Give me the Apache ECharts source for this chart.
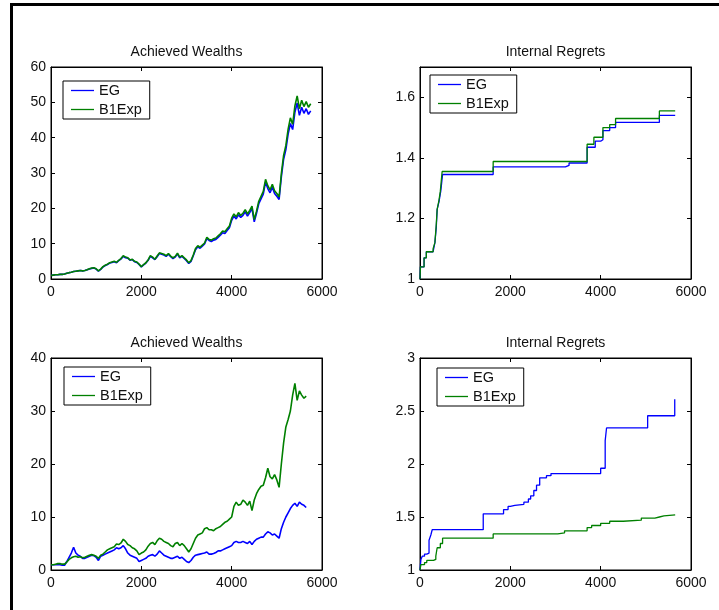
<!DOCTYPE html>
<html>
<head>
<meta charset="utf-8">
<script src="https://cdn.jsdelivr.net/npm/echarts@6/dist/echarts.min.js"></script>
<style>
  html, body { margin: 0; padding: 0; background: #fff; }
  #chart { width: 719px; height: 610px; }
</style>
</head>
<body>
<div id="chart"></div>
<script>
// ---- data -------------------------------------------------------------
const seriesNames = ['EG', 'B1Exp'];
const xTicks = [0, 2000, 4000, 6000];
const wealthTicksA = [0, 10, 20, 30, 40, 50, 60];
const regretTicksA = [1, 1.2, 1.4, 1.6];
const wealthTicksB = [0, 10, 20, 30, 40];
const regretTicksB = [1, 1.5, 2, 2.5, 3];

// wealth series are sampled every 50 trading days
const wealthStep = 50;

// first data set: achieved wealth
const wealthA_EG = [
  1.0, 1.1, 1.2, 1.2, 1.3, 1.3, 1.4, 1.6, 1.8, 1.9,
  2.1, 2.2, 2.3, 2.4, 2.3, 2.4, 2.6, 2.8, 3.0, 3.1,
  2.8, 2.2, 2.7, 3.4, 3.8, 4.1, 4.5, 4.7, 4.9, 4.6,
  5.2, 5.7, 6.4, 6.0, 5.9, 5.3, 5.5, 4.9, 4.7, 4.1,
  3.4, 4.0, 4.5, 5.3, 6.4, 6.0, 5.5, 6.3, 7.2, 7.0,
  6.8, 6.4, 7.0, 6.3, 5.8, 6.2, 7.1, 6.0, 6.4, 5.8,
  5.2, 4.4, 5.0, 6.6, 8.3, 9.1, 8.7, 9.3, 9.9, 11.4,
  10.9, 10.6, 11.0, 11.2, 11.8, 12.4, 13.1, 12.9, 13.7, 14.5,
  16.6, 17.8, 17.0, 18.2, 17.4, 18.0, 19.0, 17.8, 18.8, 19.9,
  16.2, 18.6, 21.3, 22.7, 24.0, 27.4, 25.6, 24.4, 26.0, 24.2,
  23.4, 22.5, 28.9, 33.9, 36.6, 41.0, 44.0, 42.3, 47.2, 49.8,
  46.3, 48.6, 46.9, 48.2, 46.6, 47.6
];
const wealthA_B1Exp = [
  1.0, 1.1, 1.2, 1.2, 1.3, 1.3, 1.4, 1.6, 1.8, 1.9,
  2.1, 2.2, 2.3, 2.4, 2.3, 2.4, 2.6, 2.9, 3.1, 3.2,
  2.9, 2.3, 2.8, 3.5, 3.9, 4.2, 4.6, 4.8, 5.0, 4.7,
  5.3, 5.8, 6.6, 6.2, 6.0, 5.4, 5.6, 5.0, 4.8, 4.2,
  3.5, 4.1, 4.6, 5.4, 6.6, 6.2, 5.6, 6.5, 7.4, 7.2,
  7.0, 6.6, 7.2, 6.5, 6.0, 6.4, 7.3, 6.2, 6.6, 6.0,
  5.4, 4.6, 5.2, 6.8, 8.6, 9.4, 9.0, 9.6, 10.2, 11.8,
  11.2, 11.0, 11.4, 11.6, 12.2, 12.8, 13.6, 13.4, 14.2, 15.0,
  17.2, 18.4, 17.6, 18.8, 18.0, 18.6, 19.6, 18.4, 19.4, 20.6,
  16.8, 19.2, 22.0, 23.4, 24.8, 28.2, 26.4, 25.2, 26.8, 25.0,
  24.2, 23.2, 29.8, 35.0, 37.8, 42.4, 45.6, 43.8, 49.0, 51.8,
  48.2, 50.6, 48.8, 50.2, 48.6, 49.6
];

// first data set: internal regret, [day, level] at each change
const regretA_EG = [
  [0, 1.0], [10, 1.04], [90, 1.07], [140, 1.09], [290, 1.095], [330, 1.12],
  [360, 1.17], [380, 1.23], [420, 1.255], [460, 1.29], [500, 1.345],
  [1620, 1.37], [3220, 1.375], [3300, 1.383], [3700, 1.435], [3880, 1.455],
  [4000, 1.46], [4050, 1.49], [4200, 1.50], [4330, 1.517], [5300, 1.54], [5650, 1.54]
];
const regretA_B1Exp = [
  [0, 1.0], [10, 1.04], [90, 1.07], [140, 1.09], [290, 1.10], [330, 1.12],
  [360, 1.18], [380, 1.23], [420, 1.26], [450, 1.29], [490, 1.355],
  [1620, 1.388], [3700, 1.445], [3850, 1.468], [4050, 1.50], [4200, 1.51],
  [4330, 1.53], [5300, 1.555], [5650, 1.555]
];

// second data set: achieved wealth
const wealthB_EG = [
  1.0, 1.0, 1.0, 1.0, 1.0, 0.9, 0.9, 1.6, 2.4, 3.2,
  4.3, 3.2, 2.8, 2.6, 2.2, 2.2, 2.4, 2.6, 2.8, 2.7,
  2.4, 1.8, 2.6, 2.8, 3.0, 3.2, 3.4, 3.6, 3.8, 4.2,
  4.0, 4.2, 4.6, 4.0, 3.2, 2.8, 2.6, 2.4, 2.2, 1.6,
  1.8, 2.0, 2.2, 2.6, 2.8, 2.9, 2.6, 3.0, 3.6, 3.2,
  2.8, 2.6, 2.4, 2.2, 2.2, 2.4, 2.6, 2.2, 2.4, 2.0,
  1.6, 1.4, 1.8, 2.4, 2.8, 2.9, 3.0, 3.1, 3.2, 3.4,
  3.0, 3.0, 3.1, 3.3, 3.6, 3.6, 3.8, 4.0, 4.2, 4.4,
  4.6, 5.2, 5.4, 5.2, 5.2, 5.4, 5.2, 5.0, 5.4, 4.8,
  5.4, 5.8, 6.0, 6.2, 6.2, 6.8, 7.2, 7.0, 6.6, 6.8,
  6.4, 6.0, 7.8, 9.0, 10.0, 10.8, 11.6, 12.2, 12.6, 12.0,
  12.8, 12.4, 12.2, 11.8
];
const wealthB_B1Exp = [
  1.0, 1.0, 1.1, 1.2, 1.2, 1.1, 1.1, 1.5, 2.0, 2.3,
  2.5, 2.6, 2.4, 2.5, 2.3, 2.4, 2.6, 2.8, 2.9, 2.8,
  2.6, 2.2, 2.8, 3.0, 3.4, 3.8, 4.0, 4.2, 4.4, 4.9,
  4.8, 5.1, 5.8, 5.4, 4.8, 4.6, 4.2, 4.0, 3.6, 2.9,
  3.2, 3.4, 3.8, 4.5, 5.0, 5.2, 4.8, 5.5, 6.0, 5.8,
  5.4, 5.2, 5.0, 4.6, 4.4, 5.0, 5.2, 4.6, 5.0, 4.6,
  4.0, 3.4, 4.0, 5.0, 6.0, 6.6, 6.8, 7.0, 7.8, 8.0,
  7.6, 7.6, 7.4, 7.8, 8.0, 8.2, 8.6, 9.0, 9.2, 9.6,
  10.0, 12.0, 12.8, 12.2, 12.4, 13.2, 12.8, 12.2, 13.0, 11.2,
  13.2, 14.4, 15.2, 15.8, 16.0, 17.4, 19.2, 17.6, 17.2, 18.0,
  17.0, 15.6, 20.0, 24.0, 27.0, 28.4, 30.0, 33.0, 35.2, 32.0,
  33.8, 33.0, 32.4, 32.8
];

// second data set: internal regret, [day, level] at each change
const regretB_EG = [
  [0, 1.0], [20, 1.1], [50, 1.13], [100, 1.15], [150, 1.16], [200, 1.28],
  [240, 1.33], [270, 1.38], [1400, 1.53], [1850, 1.57], [1950, 1.60],
  [2000, 1.61], [2100, 1.62], [2300, 1.64], [2400, 1.67], [2450, 1.70],
  [2520, 1.75], [2580, 1.80], [2650, 1.87], [2800, 1.89], [2900, 1.91],
  [4000, 1.96], [4100, 2.22], [4130, 2.34], [5040, 2.455], [5640, 2.61], [5650, 2.61]
];
const regretB_B1Exp = [
  [0, 1.0], [20, 1.05], [100, 1.07], [150, 1.09], [300, 1.10], [350, 1.13],
  [380, 1.21], [450, 1.25], [500, 1.30], [1620, 1.34], [3050, 1.35],
  [3200, 1.37], [3700, 1.40], [3800, 1.42], [4000, 1.44], [4200, 1.46],
  [4500, 1.47], [4900, 1.49], [5200, 1.50], [5300, 1.51], [5400, 1.52], [5650, 1.52]
];

// ---- drawing ----------------------------------------------------------
const FONT = '"Liberation Sans", Arial, Helvetica, sans-serif';
const TEXT = '#111';
const COLORS = { EG: '#0000ff', B1Exp: '#008000' };
const PLOT_W = 271, PLOT_H = 212;

const withDays = vals => vals.map((v, i) => [i * wealthStep, v]);
const plainNumber = v => String(Math.round(v * 100) / 100);

const panels = [
  { left: 51,  top: 67,  title: 'Achieved Wealths', ticks: wealthTicksA,
    data: [withDays(wealthA_EG), withDays(wealthA_B1Exp)], step: false,
    legend: { left: 63, top: 81 } },
  { left: 420, top: 67,  title: 'Internal Regrets', ticks: regretTicksA, yMax: 1.7,
    data: [regretA_EG, regretA_B1Exp], step: true,
    legend: { left: 430, top: 75 } },
  { left: 51,  top: 358, title: 'Achieved Wealths', ticks: wealthTicksB,
    data: [withDays(wealthB_EG), withDays(wealthB_B1Exp)], step: false,
    legend: { left: 64, top: 367 } },
  { left: 420, top: 358, title: 'Internal Regrets', ticks: regretTicksB,
    data: [regretB_EG, regretB_B1Exp], step: true,
    legend: { left: 437, top: 368 } }
];

const grid = [], xAxis = [], yAxis = [], title = [], legend = [], series = [];

const axisLine = { show: true, onZero: false, lineStyle: { color: '#000', width: 1 } };
const axisTick = { show: true, inside: true, length: 4, lineStyle: { color: '#000', width: 1 } };
const labelStyle = { color: TEXT, fontSize: 14, fontFamily: FONT, formatter: plainNumber };

panels.forEach((p, i) => {
  grid.push({ left: p.left, top: p.top, width: PLOT_W, height: PLOT_H,
              show: true, borderColor: '#000', borderWidth: 1, backgroundColor: '#fff' });

  const xCommon = {
    type: 'value', gridIndex: i, min: xTicks[0], max: xTicks[xTicks.length - 1],
    interval: xTicks[1] - xTicks[0], axisLine, axisTick, splitLine: { show: false }
  };
  xAxis.push(Object.assign({}, xCommon, { position: 'bottom',
    axisLabel: Object.assign({ margin: 6 }, labelStyle) }));
  xAxis.push(Object.assign({}, xCommon, { position: 'top', axisLabel: { show: false } }));

  const yMin = p.ticks[0];
  const yMax = p.yMax !== undefined ? p.yMax : p.ticks[p.ticks.length - 1];
  const yCommon = {
    type: 'value', gridIndex: i, min: yMin, max: yMax,
    interval: p.ticks[1] - p.ticks[0], axisLine, axisTick, splitLine: { show: false }
  };
  yAxis.push(Object.assign({}, yCommon, { position: 'left',
    axisLabel: Object.assign({ margin: 5, showMaxLabel: p.yMax === undefined }, labelStyle) }));
  yAxis.push(Object.assign({}, yCommon, { position: 'right', axisLabel: { show: false } }));

  title.push({ text: p.title, left: p.left + PLOT_W / 2, top: p.top - 22,
               textAlign: 'center', padding: 0,
               textStyle: { fontSize: 14, fontWeight: 'normal', color: TEXT, fontFamily: FONT } });

  legend.push({
    orient: 'vertical', left: p.legend.left, top: p.legend.top,
    data: seriesNames, icon: 'rect', itemWidth: 23, itemHeight: 1.3,
    itemGap: 4, itemTextGap: 8, padding: [2, 8, 2, 8],
    borderColor: '#000', borderWidth: 1, borderRadius: 0, backgroundColor: '#fff',
    selectedMode: false,
    textStyle: { fontSize: 14.5, color: TEXT, fontFamily: FONT, lineHeight: 14 }
  });

  seriesNames.forEach((name, k) => {
    series.push({
      name, type: 'line', xAxisIndex: 2 * i, yAxisIndex: 2 * i,
      data: p.data[k], step: p.step ? 'end' : false,
      showSymbol: false, symbol: 'none', silent: true,
      color: COLORS[name],
      lineStyle: { color: COLORS[name], width: p.step ? 1.3 : 1.6 },
      z: 2 + k
    });
  });
});

const chart = echarts.init(document.getElementById('chart'), null, { renderer: 'canvas' });
chart.setOption({
  backgroundColor: '#fff',
  animation: false,
  grid, xAxis, yAxis, title, legend, series,
  graphic: [
    { type: 'rect', shape: { x: 10, y: 3, width: 3, height: 607 }, style: { fill: '#000' }, silent: true },
    { type: 'rect', shape: { x: 10, y: 3, width: 709, height: 3 }, style: { fill: '#000' }, silent: true }
  ]
});
</script>
</body>
</html>
